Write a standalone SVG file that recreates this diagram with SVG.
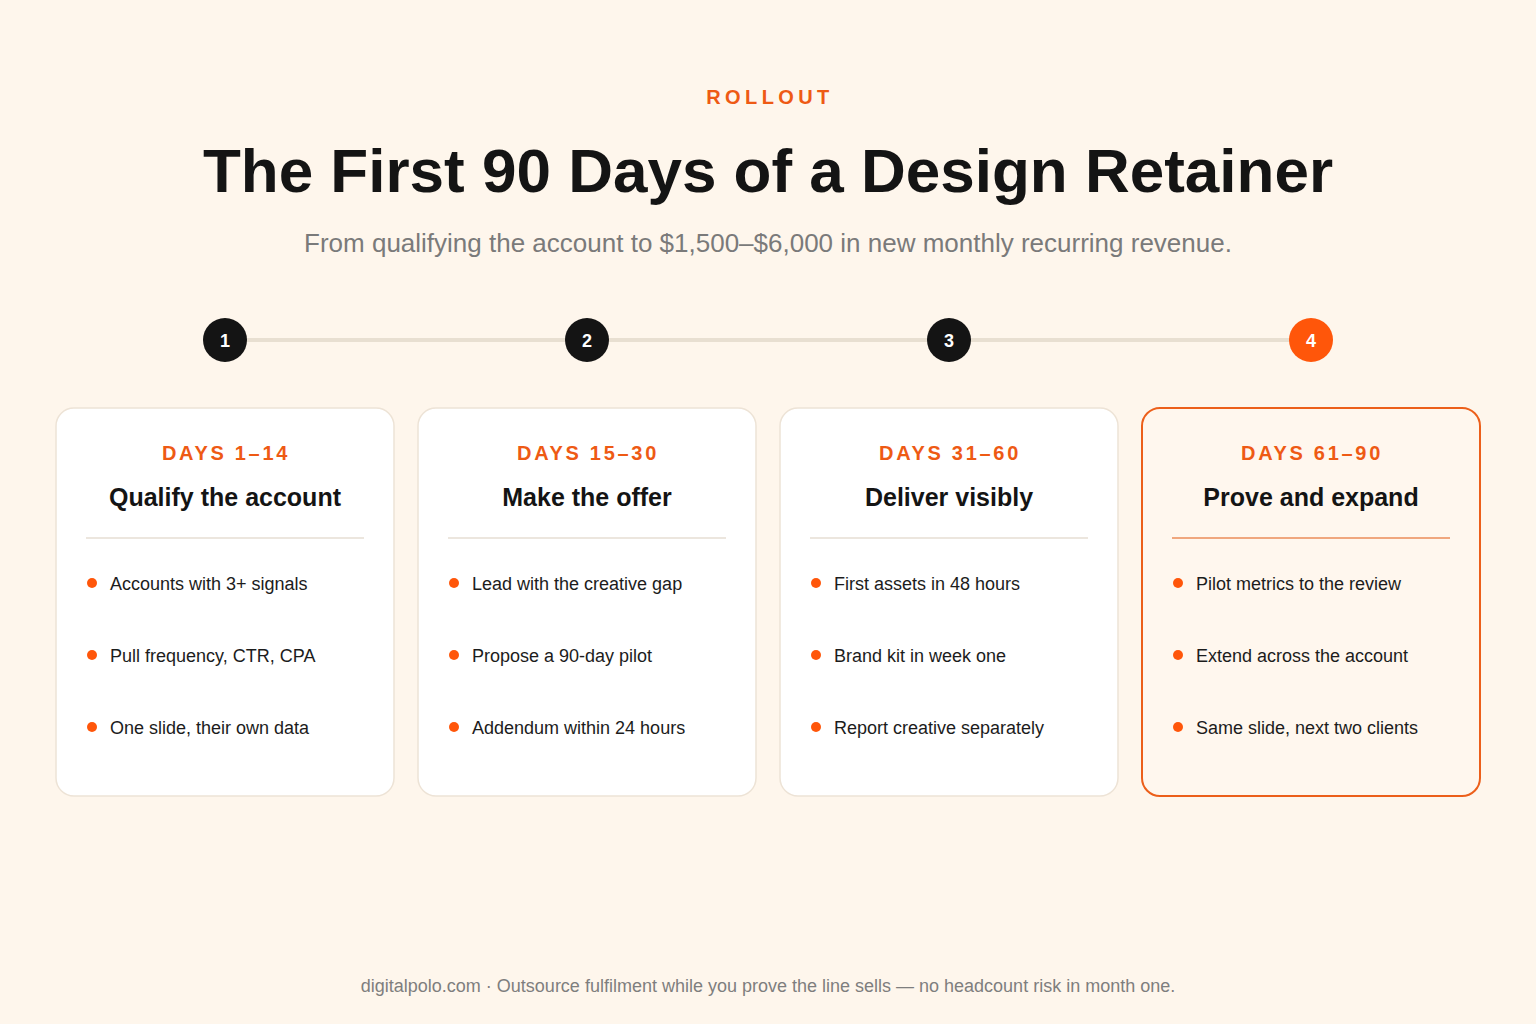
<svg xmlns="http://www.w3.org/2000/svg" width="1536" height="1024" viewBox="0 0 1536 1024">
<style>
.bg{fill:#FEF6EC}
.kicker{font:700 20px "Liberation Sans",Arial,sans-serif;fill:#EE5A14;letter-spacing:4.4px;text-anchor:middle}
.title{font:700 62px "Liberation Sans",Arial,sans-serif;fill:#141414;text-anchor:middle}
.sub{font:400 26px "Liberation Sans",Arial,sans-serif;fill:#7A7A7A;text-anchor:middle}
.step{fill:#141414}
.step.active{fill:#FF560A}
.stepnum{font:700 18px "Liberation Sans",Arial,sans-serif;fill:#FFFFFF;text-anchor:middle}
.card{fill:#FFFFFF;stroke:#EDE3D6;stroke-width:1.5}
.card.active{fill:#FFF7EE;stroke:#EC5F1A;stroke-width:2}
.days{font:700 20px "Liberation Sans",Arial,sans-serif;fill:#EE5A14;letter-spacing:2.7px;text-anchor:middle}
.head{font:700 25px "Liberation Sans",Arial,sans-serif;fill:#141414;text-anchor:middle}
.div{stroke:#ECE6DE;stroke-width:2}
.div.active{stroke:#F0A77E}
.dot{fill:#FF560A}
.item{font:400 18px "Liberation Sans",Arial,sans-serif;fill:#1C1C1C}
.foot{font:400 18px "Liberation Sans",Arial,sans-serif;fill:#7E7E7E;text-anchor:middle}
</style>
<rect class="bg" x="0" y="0" width="1536" height="1024"/>
<text class="kicker" x="770" y="104">ROLLOUT</text>
<text class="title" x="768" y="192">The First 90 Days of a Design Retainer</text>
<text class="sub" x="768" y="252">From qualifying the account to $1,500–$6,000 in new monthly recurring revenue.</text>
<g id="connectors">
<line x1="225" y1="340" x2="1311" y2="340" stroke="#E8DFD1" stroke-width="4"/>
</g>
<g id="step1"><circle class="step" cx="225" cy="340" r="22"/><text class="stepnum" x="225" y="347">1</text></g>
<g id="step2"><circle class="step" cx="587" cy="340" r="22"/><text class="stepnum" x="587" y="347">2</text></g>
<g id="step3"><circle class="step" cx="949" cy="340" r="22"/><text class="stepnum" x="949" y="347">3</text></g>
<g id="step4"><circle class="step active" cx="1311" cy="340" r="22"/><text class="stepnum" x="1311" y="347">4</text></g>
<g id="card1">
<rect class="card" x="56" y="408" width="338" height="388" rx="18"/>
<text class="days" x="226" y="460">DAYS 1–14</text>
<text class="head" x="225" y="506">Qualify the account</text>
<line class="div" x1="86" y1="538" x2="364" y2="538"/>
<circle class="dot" cx="92" cy="583" r="5"/><text class="item" x="110" y="590">Accounts with 3+ signals</text>
<circle class="dot" cx="92" cy="655" r="5"/><text class="item" x="110" y="662">Pull frequency, CTR, CPA</text>
<circle class="dot" cx="92" cy="727" r="5"/><text class="item" x="110" y="734">One slide, their own data</text>
</g>
<g id="card2">
<rect class="card" x="418" y="408" width="338" height="388" rx="18"/>
<text class="days" x="588" y="460">DAYS 15–30</text>
<text class="head" x="587" y="506">Make the offer</text>
<line class="div" x1="448" y1="538" x2="726" y2="538"/>
<circle class="dot" cx="454" cy="583" r="5"/><text class="item" x="472" y="590">Lead with the creative gap</text>
<circle class="dot" cx="454" cy="655" r="5"/><text class="item" x="472" y="662">Propose a 90-day pilot</text>
<circle class="dot" cx="454" cy="727" r="5"/><text class="item" x="472" y="734">Addendum within 24 hours</text>
</g>
<g id="card3">
<rect class="card" x="780" y="408" width="338" height="388" rx="18"/>
<text class="days" x="950" y="460">DAYS 31–60</text>
<text class="head" x="949" y="506">Deliver visibly</text>
<line class="div" x1="810" y1="538" x2="1088" y2="538"/>
<circle class="dot" cx="816" cy="583" r="5"/><text class="item" x="834" y="590">First assets in 48 hours</text>
<circle class="dot" cx="816" cy="655" r="5"/><text class="item" x="834" y="662">Brand kit in week one</text>
<circle class="dot" cx="816" cy="727" r="5"/><text class="item" x="834" y="734">Report creative separately</text>
</g>
<g id="card4">
<rect class="card active" x="1142" y="408" width="338" height="388" rx="18"/>
<text class="days" x="1312" y="460">DAYS 61–90</text>
<text class="head" x="1311" y="506">Prove and expand</text>
<line class="div active" x1="1172" y1="538" x2="1450" y2="538"/>
<circle class="dot" cx="1178" cy="583" r="5"/><text class="item" x="1196" y="590">Pilot metrics to the review</text>
<circle class="dot" cx="1178" cy="655" r="5"/><text class="item" x="1196" y="662">Extend across the account</text>
<circle class="dot" cx="1178" cy="727" r="5"/><text class="item" x="1196" y="734">Same slide, next two clients</text>
</g>
<text class="foot" x="768" y="992">digitalpolo.com · Outsource fulfilment while you prove the line sells — no headcount risk in month one.</text>
</svg>
